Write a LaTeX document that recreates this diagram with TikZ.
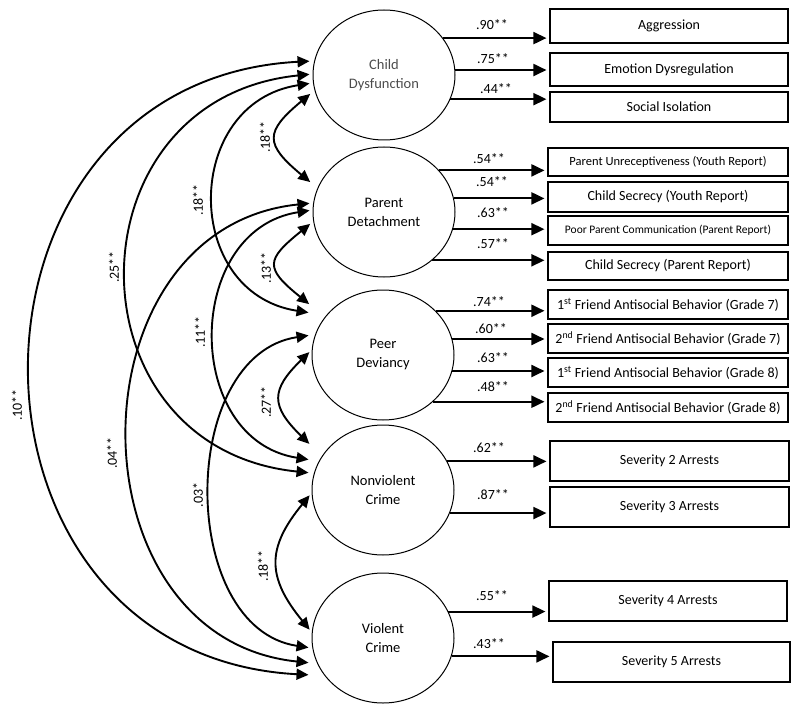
\documentclass[tikz,border=0pt]{standalone}
\usepackage{fontspec}
\setmainfont{Carlito}
\usetikzlibrary{arrows.meta,shapes.geometric}
\begin{document}
\begin{tikzpicture}[x=1pt,y=-1pt,
  lat/.style={ellipse, draw, line width=1pt, minimum width=142pt, minimum height=130pt, inner sep=0pt, align=center, font=\fontsize{14.5}{19}\selectfont},
  box/.style={draw, line width=1.1pt, inner sep=0pt, align=center, font=\fontsize{14}{16}\selectfont},
  load/.style={-{Triangle[length=13pt,width=12pt]}, line width=1.9pt, shorten >=3pt},
  cov/.style={{Triangle[length=12pt,width=11pt]}-{Triangle[length=12pt,width=11pt]}, line width=1.9pt, shorten <=3pt, shorten >=3pt},
  coef/.style={font=\fontsize{14}{16}\selectfont, inner sep=1pt},
]
\useasboundingbox (0,0) rectangle (800,714);

% latent variables
\node[lat, text=black!70] (cd) at (384,75) {Child\\Dysfunction};
\node[lat] (pd) at (384,212) {Parent\\Detachment};
\node[lat] (peer) at (383,355) {Peer\\Deviancy};
\node[lat] (nvc) at (383,490) {Nonviolent\\Crime};
\node[lat] (vc) at (383,638) {Violent\\Crime};

% indicators
\node[box, minimum width=238pt, minimum height=34pt] (agg) at (669,26) {Aggression};
\node[box, minimum width=238pt, minimum height=33pt] (emo) at (669,69.5) {Emotion Dysregulation};
\node[box, minimum width=238pt, minimum height=30pt] (soc) at (669,107) {Social Isolation};
\node[box, minimum width=240pt, minimum height=28pt, font=\fontsize{12.5}{14}\selectfont] (pu) at (668,162) {Parent Unreceptiveness (Youth Report)};
\node[box, minimum width=240pt, minimum height=30pt] (csy) at (668,197) {Child Secrecy (Youth Report)};
\node[box, minimum width=240pt, minimum height=29pt, font=\fontsize{11.5}{13}\selectfont] (ppc) at (668,230.5) {Poor Parent Communication (Parent Report)};
\node[box, minimum width=240pt, minimum height=28pt] (csp) at (668,266) {Child Secrecy (Parent Report)};
\node[box, minimum width=240pt, minimum height=29pt] (f1) at (668,304.5) {1\textsuperscript{st} Friend Antisocial Behavior (Grade 7)};
\node[box, minimum width=240pt, minimum height=29pt] (f2) at (668,338.5) {2\textsuperscript{nd} Friend Antisocial Behavior (Grade 7)};
\node[box, minimum width=240pt, minimum height=29pt] (f3) at (668,372.5) {1\textsuperscript{st} Friend Antisocial Behavior (Grade 8)};
\node[box, minimum width=240pt, minimum height=29pt] (f4) at (668,407.5) {2\textsuperscript{nd} Friend Antisocial Behavior (Grade 8)};
\node[box, minimum width=239pt, minimum height=40pt] (s2) at (669.5,461) {Severity 2 Arrests};
\node[box, minimum width=239pt, minimum height=40pt] (s3) at (669.5,507) {Severity 3 Arrests};
\node[box, minimum width=238pt, minimum height=40pt] (s4) at (668,601) {Severity 4 Arrests};
\node[box, minimum width=237pt, minimum height=40pt] (s5) at (671.5,662) {Severity 5 Arrests};

% loadings
\draw[load] (cd.32.4) -- (cd.32.4 -| agg.west);
\draw[load] (cd.4) -- (cd.4 -| emo.west);
\draw[load] (cd.-20.9) -- (cd.-20.9 -| soc.west);
\draw[load] (pd.37.8) -- (pd.37.8 -| pu.west);
\draw[load] (pd.11.4) -- (pd.11.4 -| csy.west);
\draw[load] (pd.-14.8) -- (pd.-14.8 -| ppc.west);
\draw[load] (pd.-45.1) -- (pd.-45.1 -| csp.west);
\draw[load] (peer.40.1) -- (peer.40.1 -| f1.west);
\draw[load] (peer.13.1) -- (peer.13.1 -| f2.west);
\draw[load] (peer.-13.9) -- (peer.-13.9 -| f3.west);
\draw[load] (peer.-43.8) -- (peer.-43.8 -| f4.west);
\draw[load] (nvc.24.5) -- (nvc.24.5 -| s2.west);
\draw[load] (nvc.-19.1) -- (nvc.-19.1 -| s3.west);
\draw[load] (vc.22.7) -- (vc.22.7 -| s4.west);
\draw[load] (vc.-15.6) -- (vc.-15.6 -| s5.west);

\node[coef] (l1) at (492,25) {.90**};
\node[coef] (l2) at (493,59) {.75**};
\node[coef] (l3) at (496,89) {.44**};
\node[coef] (l4) at (489,159) {.54**};
\node[coef] (l5) at (492,182) {.54**};
\node[coef] (l6) at (493,213) {.63**};
\node[coef] (l7) at (493,244) {.57**};
\node[coef] (l8) at (489,302) {.74**};
\node[coef] (l9) at (491,329) {.60**};
\node[coef] (l10) at (493,358) {.63**};
\node[coef] (l11) at (493,387) {.48**};
\node[coef] (l12) at (489,448) {.62**};
\node[coef] (l13) at (493,495) {.87**};
\node[coef] (l14) at (492,596) {.55**};
\node[coef] (l15) at (489,644) {.43**};

% covariances
\draw[cov] (cd.west |- 0,61) .. controls +(-374,20) and +(-374,-20) .. (vc.west |- 0,675);
\draw[cov] (cd.west |- 0,74) .. controls +(-246,25) and +(-246,-25) .. (nvc.west |- 0,473);
\draw[cov] (pd.west |- 0,203) .. controls +(-244,25) and +(-244,-25) .. (vc.west |- 0,663);
\draw[cov] (cd.west |- 0,83) .. controls +(-130,20) and +(-130,-20) .. (peer.west |- 0,313);
\draw[cov] (pd.west |- 0,210) .. controls +(-129,20) and +(-129,-20) .. (nvc.west |- 0,460);
\draw[cov] (peer.west |- 0,335) .. controls +(-134,20) and +(-134,-20) .. (vc.west |- 0,648);
\draw[cov] (cd.west |- 0,92) .. controls +(-48,40) and +(-48,-40) .. (pd.west |- 0,184);
\draw[cov] (pd.west |- 0,222) .. controls +(-47,38) and +(-47,-38) .. (peer.west |- 0,306);
\draw[cov] (peer.west |- 0,350) .. controls +(-41,40) and +(-41,-40) .. (nvc.west |- 0,446);
\draw[cov] (nvc.west |- 0,493) .. controls +(-45,55) and +(-45,-55) .. (vc.west |- 0,632);

\node[coef, rotate=90] (c1) at (17,405) {.10**};
\node[coef, rotate=90] (c2) at (114,267) {.25**};
\node[coef, rotate=90] (c3) at (112,453) {.04**};
\node[coef, rotate=90] (c4) at (198,200) {.18**};
\node[coef, rotate=90] (c5) at (200,332) {.11**};
\node[coef, rotate=90] (c6) at (198,495) {.03*};
\node[coef, rotate=90] (c7) at (265,137) {.18**};
\node[coef, rotate=90] (c8) at (266,268) {.13**};
\node[coef, rotate=90] (c9) at (266,402) {.27**};
\node[coef, rotate=90] (c10) at (263,566) {.18**};
\end{tikzpicture}
\end{document}
